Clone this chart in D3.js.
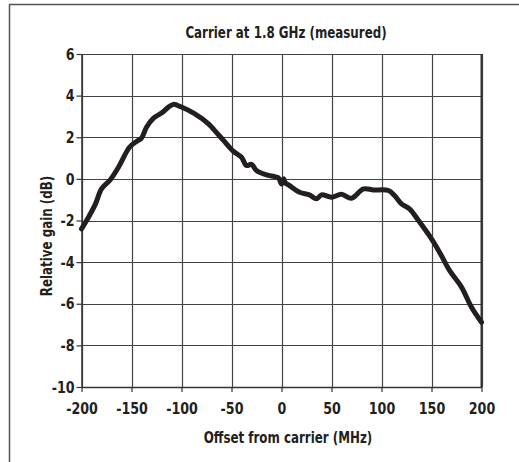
<!DOCTYPE html>
<html>
<head>
<meta charset="utf-8">
<script src="https://cdn.jsdelivr.net/npm/d3@7"></script>
<style>
body{margin:0;background:#fff;}
text{font-family:"Liberation Sans Narrow","DejaVu Sans Condensed","Liberation Sans",sans-serif;font-weight:bold;fill:#231f20;}
</style>
</head>
<body>
<svg width="519" height="462"></svg>
<script>
var offsetMHz = [-200,-193,-186,-180,-171,-163,-152,-145,-140,-135,-128,-120,-113,-108,-100,-87,-73,-67,-58,-48,-40,-35,-30,-25,-15,-7,-3,0,2,4,8,18,28,35,40,50,60,70,82,92,107,113,120,128,137,150,158,168,180,190,200];
var gainDb =    [-2.4,-1.84,-1.2,-0.48,-0.03,0.56,1.52,1.8,1.96,2.48,2.92,3.16,3.45,3.58,3.45,3.13,2.64,2.33,1.85,1.32,1.04,0.64,0.7,0.4,0.19,0.11,0.05,-0.25,0.0,-0.2,-0.32,-0.64,-0.77,-0.96,-0.77,-0.88,-0.74,-0.93,-0.48,-0.53,-0.56,-0.8,-1.2,-1.44,-2.0,-2.88,-3.52,-4.4,-5.2,-6.17,-6.89];
var xTicks = [-200,-150,-100,-50,0,50,100,150,200];
var yTicks = [-10,-8,-6,-4,-2,0,2,4,6];
var tytul = "Carrier at 1.8 GHz (measured)";
var tytulX = "Offset from carrier (MHz)";
var tytulY = "Relative gain (dB)";

var svg = d3.select("svg");
var lewo = 81.5, prawo = 481.5, gora = 54, dol = 387;
var sciesk = 0.88;//zwezenie tekstu

var x = d3.scaleLinear().domain([-200,200]).range([lewo,prawo]);
var y = d3.scaleLinear().domain([-10,6]).range([dol,gora]);

// ramka
svg.append("path")
	.attr("d","M9.5,462 L9.5,4.5 L519,4.5")
	.style("fill","none")
	.style("stroke","#555")
	.style("stroke-width","1.5px");

// siatka
svg.append("g")
	.selectAll("line")
	.data(xTicks)
	.enter().append("line")
	.attr("x1", function(d){return Math.round(x(d))+0.5;})
	.attr("x2", function(d){return Math.round(x(d))+0.5;})
	.attr("y1", gora)
	.attr("y2", dol)
	.style("stroke","#444")
	.style("stroke-width","1.2px");
svg.append("g")
	.selectAll("line")
	.data(yTicks)
	.enter().append("line")
	.attr("x1", lewo)
	.attr("x2", prawo)
	.attr("y1", function(d){return Math.round(y(d))+0.5;})
	.attr("y2", function(d){return Math.round(y(d))+0.5;})
	.style("stroke","#444")
	.style("stroke-width","1.2px");
svg.append("line")
	.attr("x1",prawo).attr("x2",prawo).attr("y1",gora).attr("y2",dol)
	.style("stroke","#333").style("stroke-width","2px");

// osie
var fmt = function(d){return String(d);};
var osX = svg.append("g")
	.attr("transform","translate(0,"+dol+")")
	.call(d3.axisBottom(x).tickValues(xTicks).tickFormat(fmt).tickSize(5).tickPadding(11).tickSizeOuter(0));
var osY = svg.append("g")
	.attr("transform","translate("+lewo+",0)")
	.call(d3.axisLeft(y).tickValues(yTicks).tickFormat(fmt).tickSize(5).tickPadding(2).tickSizeOuter(0));
[osX,osY].forEach(function(o){
	o.select(".domain").style("stroke","#333").style("stroke-width","1.5px");
	o.selectAll(".tick line").style("stroke","#333").style("stroke-width","1.2px");
	o.selectAll("text")
		.attr("font-family",null)
		.attr("font-size",null)
		.attr("transform","scale("+sciesk+",1)")
		.style("font-size","16px")
		.style("fill","#231f20");
});
osY.selectAll("text").attr("x",-7/sciesk);

// krzywa
var dane = offsetMHz.map(function(d,i){return {x:d, y:gainDb[i]};});
svg.append("path")
	.datum(dane)
	.attr("d", d3.line().x(function(d){return x(d.x);}).y(function(d){return y(d.y);}).curve(d3.curveCatmullRom))
	.style("fill","none")
	.style("stroke","#231f20")
	.style("stroke-width","5px")
	.style("stroke-linejoin","round")
	.style("stroke-linecap","round");

// napisy
function napis(t, tx, ty, rot){
	svg.append("text")
		.attr("transform","translate("+tx+","+ty+") rotate("+rot+") scale("+sciesk+",1)")
		.attr("text-anchor","middle")
		.style("font-size","15px")
		.text(t);
}
napis(tytul, 286, 38, 0);
napis(tytulX, 288, 443, 0);
napis(tytulY, 52, 236, -90);
</script>
</body>
</html>
